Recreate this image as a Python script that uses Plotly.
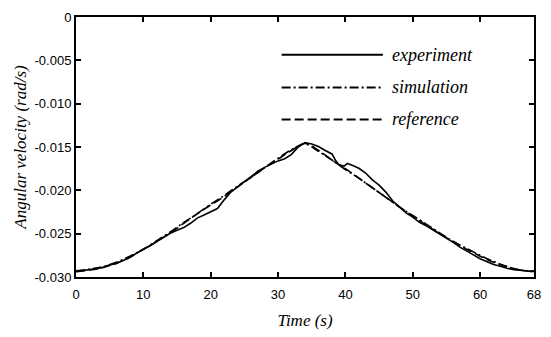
import plotly.graph_objects as go

# ---------------- data ----------------
ref_t = [0, 2, 4, 6, 8, 10, 12, 14, 16, 18, 20, 22, 24, 26, 28, 30, 32, 34,
         36, 38, 40, 42, 44, 46, 48, 50, 52, 54, 56, 58, 60, 62, 64, 66, 68]
ref_v = [-0.0294, -0.0292, -0.0289, -0.0284, -0.0277, -0.0268, -0.0259, -0.0249,
         -0.0238, -0.0227, -0.0217, -0.0207, -0.0196, -0.0185, -0.0174, -0.0164,
         -0.0154, -0.0146, -0.0154, -0.0165, -0.0175, -0.0186, -0.0197, -0.0208,
         -0.0219, -0.0230, -0.0240, -0.0250, -0.0259, -0.0268, -0.0276, -0.0283,
         -0.0288, -0.0292, -0.0294]

sim_t = [0, 2, 4, 6, 8, 10, 12, 14, 16, 18, 20, 22, 24, 26, 28, 30, 32, 33.5,
         34, 36, 38, 40, 42, 44, 46, 48, 50, 52, 54, 56, 58, 60, 62, 64, 66, 68]
sim_v = [-0.0293, -0.0291, -0.0288, -0.0283, -0.0276, -0.0268, -0.0258, -0.0248,
         -0.0237, -0.0227, -0.0216, -0.0206, -0.0195, -0.0185, -0.0174, -0.0163,
         -0.0153, -0.0147, -0.0146, -0.0155, -0.0165, -0.0176, -0.0186, -0.0197,
         -0.0208, -0.0219, -0.0229, -0.0239, -0.0249, -0.0259, -0.0267, -0.0275,
         -0.0282, -0.0288, -0.0292, -0.0293]

exp_t = [0, 1, 2, 3, 4, 5, 6, 7, 8, 9, 10, 11, 12, 13, 14, 15, 16, 17, 18, 19,
         20, 21, 22, 23, 24, 25, 26, 27, 28, 29, 30, 31, 32, 33, 34, 35, 36, 37,
         38, 38.5, 39, 39.8, 40.3, 41, 42, 43, 44, 45, 46, 47, 48, 49, 50, 51,
         52, 53, 54, 55, 56, 57, 58, 59, 60, 61, 62, 63, 64, 65, 66, 67, 68]
exp_v = [-0.02935, -0.02925, -0.02920, -0.02905, -0.02890, -0.02860, -0.02845,
         -0.02810, -0.02775, -0.02725, -0.02685, -0.02640, -0.02590, -0.02540,
         -0.02495, -0.02460, -0.02430, -0.02380, -0.02320, -0.02285, -0.02245,
         -0.02210, -0.02110, -0.02020, -0.01960, -0.01900, -0.01850, -0.01780,
         -0.01735, -0.01700, -0.01660, -0.01635, -0.01585, -0.01500, -0.01450,
         -0.01465, -0.01495, -0.01540, -0.01580, -0.01650, -0.01705, -0.01720,
         -0.01690, -0.01710, -0.01745, -0.01800, -0.01880, -0.01940, -0.02020,
         -0.02120, -0.02195, -0.02260, -0.02310, -0.02370, -0.02410, -0.02455,
         -0.02500, -0.02550, -0.02600, -0.02655, -0.02705, -0.02745, -0.02790,
         -0.02820, -0.02855, -0.02875, -0.02900, -0.02915, -0.02925, -0.02930,
         -0.02935]

x_ticks = [0, 10, 20, 30, 40, 50, 60, 68]
y_ticks = [0, -0.005, -0.010, -0.015, -0.020, -0.025, -0.030]
y_tick_text = ["0", "-0.005", "-0.010", "-0.015", "-0.020", "-0.025", "-0.030"]

legend_names = ["experiment", "simulation", "reference"]

# ---------------- styles ----------------
DASH_REF = "9px,4px"
DASH_SIM = "9px,3px,2px,3px"
legend_dash = ["solid", DASH_SIM, DASH_REF]

fig = go.Figure()
fig.add_trace(go.Scatter(x=ref_t, y=ref_v, mode="lines",
                         line=dict(color="black", width=1.6, dash=DASH_REF, shape="spline"), showlegend=False))
fig.add_trace(go.Scatter(x=sim_t, y=sim_v, mode="lines",
                         line=dict(color="black", width=1.6, dash=DASH_SIM, shape="spline"), showlegend=False))
fig.add_trace(go.Scatter(x=exp_t, y=exp_v, mode="lines",
                         line=dict(color="black", width=1.6), showlegend=False))

# manual legend with long line samples
leg_y = [0.855, 0.729, 0.606]
for name, dash, yy in zip(legend_names, legend_dash, leg_y):
    fig.add_shape(type="line", xref="paper", yref="paper", x0=0.449, x1=0.67, y0=yy, y1=yy,
                  line=dict(color="black", width=2, dash=dash))
    fig.add_annotation(xref="paper", yref="paper", x=0.685, y=yy, text=name, showarrow=False,
                       xanchor="left", yanchor="middle",
                       font=dict(family="Liberation Serif", size=18, color="black", style="italic"))

axis_common = dict(showline=True, linecolor="black", linewidth=2, mirror="ticks",
                   ticks="inside", ticklen=5, tickcolor="black", tickwidth=1.5,
                   showgrid=False, zeroline=False,
                   tickfont=dict(family="Liberation Sans", size=13, color="black"))

fig.update_xaxes(range=[0, 68], tickvals=x_ticks, ticklabelstandoff=4,
                 title=dict(text="Time (s)",
                            font=dict(family="Liberation Serif", size=17, style="italic", color="black"),
                            standoff=14),
                 **axis_common)
fig.update_yaxes(range=[-0.030, 0], tickvals=y_ticks, ticktext=y_tick_text,
                 title=dict(text="Angular velocity (rad/s)",
                            font=dict(family="Liberation Serif", size=17, style="italic", color="black"),
                            standoff=4),
                 **axis_common)

fig.update_layout(width=551, height=337, margin=dict(l=76, r=10, t=14, b=54),
                  plot_bgcolor="white", paper_bgcolor="white")

fig.write_html("out.html")
